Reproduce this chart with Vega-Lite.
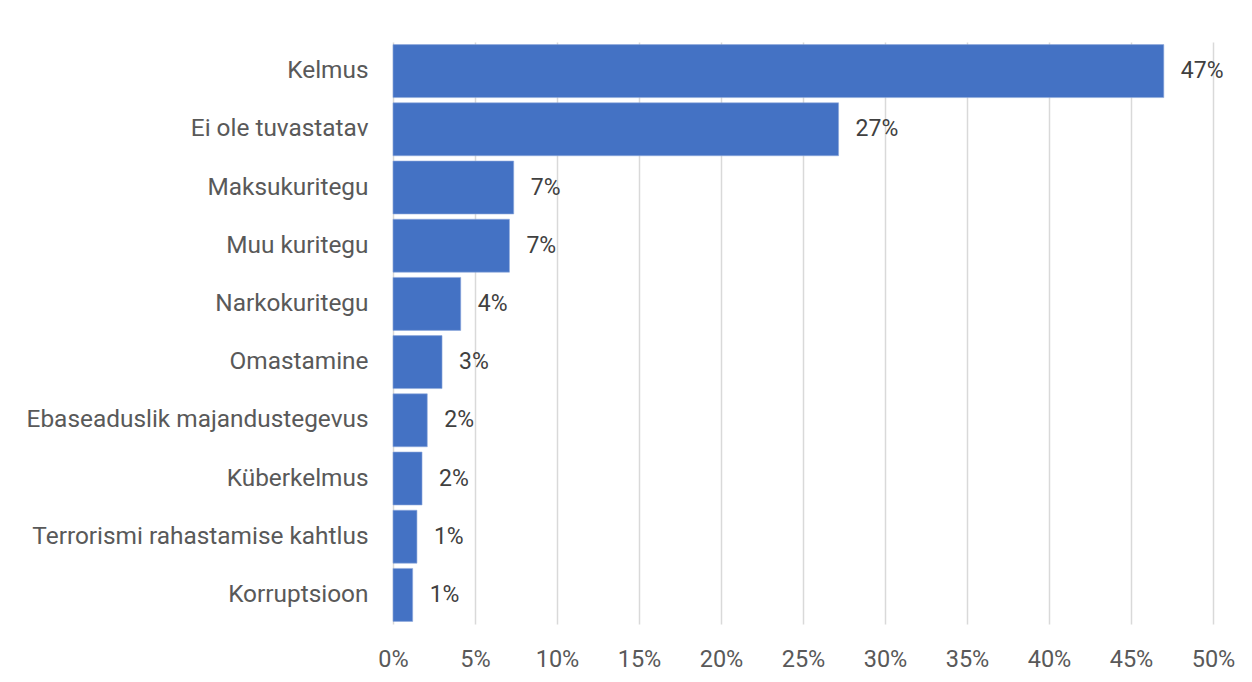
{
  "$schema": "https://vega.github.io/schema/vega-lite/v6.json",
  "autosize": "none",
  "width": 820,
  "height": 582,
  "padding": {"left": 393, "top": 42, "right": 39, "bottom": 58},
  "background": "#ffffff",
  "config": {
    "view": {"stroke": null},
    "font": "Roboto"
  },
  "data": {
    "values": [
      {"category": "Kelmus", "value": 47.0, "label": "47%"},
      {"category": "Ei ole tuvastatav", "value": 27.17, "label": "27%"},
      {"category": "Maksukuritegu", "value": 7.36, "label": "7%"},
      {"category": "Muu kuritegu", "value": 7.10, "label": "7%"},
      {"category": "Narkokuritegu", "value": 4.13, "label": "4%"},
      {"category": "Omastamine", "value": 2.99, "label": "3%"},
      {"category": "Ebaseaduslik majandustegevus", "value": 2.09, "label": "2%"},
      {"category": "Küberkelmus", "value": 1.77, "label": "2%"},
      {"category": "Terrorismi rahastamise kahtlus", "value": 1.46, "label": "1%"},
      {"category": "Korruptsioon", "value": 1.20, "label": "1%"}
    ]
  },
  "encoding": {
    "y": {
      "field": "category",
      "type": "nominal",
      "sort": null,
      "scale": {"paddingInner": 0.09, "paddingOuter": 0.045},
      "axis": {
        "title": null,
        "domain": false,
        "ticks": false,
        "labelPadding": 25,
        "labelFont": "Roboto",
        "labelFontSize": 24.4,
        "labelColor": "#595959",
        "labelLimit": 500
      }
    },
    "x": {
      "field": "value",
      "type": "quantitative",
      "scale": {"domain": [0, 50], "nice": false},
      "axis": {
        "title": null,
        "values": [0, 5, 10, 15, 20, 25, 30, 35, 40, 45, 50],
        "labelExpr": "datum.value + '%'",
        "labelFlush": false,
        "labelOverlap": false,
        "domain": false,
        "ticks": false,
        "labelPadding": 23,
        "labelFont": "Roboto",
        "labelFontSize": 23.5,
        "labelColor": "#595959",
        "grid": true,
        "gridColor": "#d9d9d9",
        "gridWidth": 1.5
      }
    }
  },
  "layer": [
    {
      "mark": {"type": "bar", "color": "#4472C4", "stroke": "#8faadc", "strokeWidth": 0.6}
    },
    {
      "mark": {"type": "text", "align": "left", "baseline": "middle", "dx": 17, "font": "Roboto", "fontSize": 23, "color": "#404040"},
      "encoding": {"text": {"field": "label"}}
    }
  ]
}
